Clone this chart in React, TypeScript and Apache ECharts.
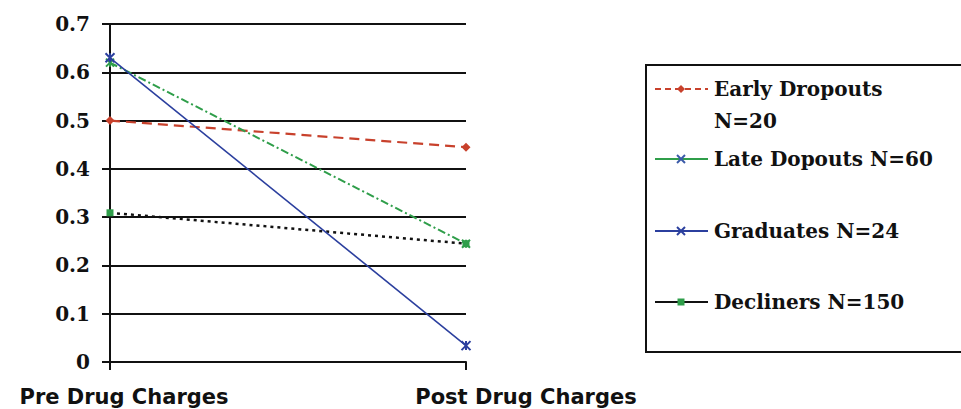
import React, { useEffect, useRef } from "react";
import * as echarts from "echarts";

const categories = ["Pre Drug Charges", "Post Drug Charges"];
const seriesNames = [
  "Early Dropouts\nN=20",
  "Late Dopouts N=60",
  "Graduates N=24",
  "Decliners N=150",
];
const earlyDropouts = [0.5, 0.445];
const lateDropouts = [0.62, 0.245];
const graduates = [0.63, 0.034];
const decliners = [0.309, 0.245];
const yTicks = [0, 0.1, 0.2, 0.3, 0.4, 0.5, 0.6, 0.7];

const RED = "#c8412c";
const GREEN = "#2f9e4a";
const BLUE = "#2b3f9e";
const BLACK = "#111111";
const XSYM = "path://M0,0L10,10M10,0L0,10M5,0L5,10";

export default function App() {
  const ref = useRef<HTMLDivElement>(null);
  useEffect(() => {
    if (!ref.current) return;
    const chart = echarts.init(ref.current, undefined, { renderer: "svg" });

    const styles = [
      { color: RED, type: [10, 6] as any, width: 2.2, symbol: "diamond", symColor: RED, symSize: 9 },
      { color: GREEN, type: [8, 3, 2, 3] as any, width: 2, symbol: XSYM, symColor: GREEN, symSize: 8 },
      { color: BLUE, type: "solid" as any, width: 1.6, symbol: XSYM, symColor: BLUE, symSize: 9 },
      { color: BLACK, type: [3, 4] as any, width: 2.5, symbol: "rect", symColor: GREEN, symSize: 7 },
    ];
    const dataSets = [earlyDropouts, lateDropouts, graduates, decliners];

    const series = dataSets.map((d, i) => {
      const s = styles[i];
      const isPath = s.symbol.startsWith("path://");
      return {
        name: seriesNames[i].replace("\n", " "),
        type: "line",
        data: d,
        symbol: s.symbol,
        symbolSize: s.symSize,
        lineStyle: { color: s.color, type: s.type, width: s.width },
        itemStyle: isPath
          ? { color: s.symColor, borderColor: s.symColor, borderWidth: 2 }
          : { color: s.symColor },
        z: [3, 4, 5, 2][i],
      };
    });

    // legend graphics
    const legendY = [89, 159, 231, 302];
    const legendSym = [
      { kind: "diamond", color: RED },
      { kind: "x", color: "#3a5aa8" },
      { kind: "x", color: BLUE },
      { kind: "rect", color: GREEN },
    ];
    const LH = 32;
    const legendChildren: any[] = [];
    legendChildren.push({
      type: "rect",
      shape: { x: 646, y: 65, width: 330, height: 287 },
      style: { fill: "#fff", stroke: BLACK, lineWidth: 2 },
    });
    seriesNames.forEach((nm, i) => {
      const y = legendY[i];
      const s = styles[i];
      legendChildren.push({
        type: "line",
        shape: { x1: 655, y1: y, x2: 708, y2: y },
        style: {
          stroke: s.color,
          lineWidth: 2,
          lineDash: i === 0 ? [6, 4] : null,
        },
      });
      const m = legendSym[i];
      const cx = 681;
      if (m.kind === "diamond") {
        legendChildren.push({
          type: "polygon",
          shape: { points: [[cx, y - 4], [cx + 4, y], [cx, y + 4], [cx - 4, y]] },
          style: { fill: m.color },
        });
      } else if (m.kind === "x") {
        legendChildren.push({
          type: "line",
          shape: { x1: cx - 4, y1: y - 4, x2: cx + 4, y2: y + 4 },
          style: { stroke: m.color, lineWidth: 2 },
        });
        legendChildren.push({
          type: "line",
          shape: { x1: cx + 4, y1: y - 4, x2: cx - 4, y2: y + 4 },
          style: { stroke: m.color, lineWidth: 2 },
        });
      } else {
        legendChildren.push({
          type: "rect",
          shape: { x: cx - 3.5, y: y - 3.5, width: 7, height: 7 },
          style: { fill: m.color },
        });
      }
      const nLines = nm.split("\n").length;
      legendChildren.push({
        type: "text",
        x: 714,
        y: y + ((nLines - 1) * LH) / 2,
        style: {
          text: nm,
          fill: BLACK,
          font: "bold 20px 'DejaVu Serif'",
          lineHeight: LH,
          verticalAlign: "middle",
          align: "left",
        },
      });
    });

    chart.setOption({
      animation: false,
      backgroundColor: "#fff",
      grid: { left: 110, right: 495, top: 24, bottom: 47, containLabel: false },
      xAxis: {
        type: "category",
        data: categories,
        boundaryGap: false,
        axisLine: { lineStyle: { color: BLACK, width: 2 } },
        axisTick: { show: true, length: 8, lineStyle: { color: BLACK, width: 2 } },
        axisLabel: {
          interval: 0,
          hideOverlap: false,
          showMinLabel: true,
          showMaxLabel: true,
          margin: 24,
          color: BLACK,
          fontFamily: "DejaVu Sans",
          fontWeight: "bold",
          fontSize: 21,
          formatter: (v: string, i: number) => (i === 0 ? `{a|${v}}` : `{b|${v}}`),
          rich: {
            a: { padding: [0, 0, 0, 28], fontFamily: "DejaVu Sans", fontWeight: "bold", fontSize: 21, color: BLACK },
            b: { padding: [0, 0, 0, 120], fontFamily: "DejaVu Sans", fontWeight: "bold", fontSize: 21, color: BLACK },
          },
        },
        splitLine: { show: false },
      },
      yAxis: {
        type: "value",
        min: yTicks[0],
        max: yTicks[yTicks.length - 1],
        interval: 0.1,
        axisLine: { show: true, lineStyle: { color: BLACK, width: 2 } },
        axisTick: { show: true, length: 8, lineStyle: { color: BLACK, width: 2 } },
        axisLabel: {
          margin: 20,
          color: BLACK,
          fontFamily: "DejaVu Serif",
          fontWeight: "bold",
          fontSize: 20,
          formatter: (v: number) => (v === 0 ? "0" : v.toFixed(1)),
        },
        splitLine: { show: true, lineStyle: { color: BLACK, width: 2 } },
      },
      series,
      graphic: [{ type: "group", children: legendChildren }],
    });
    return () => chart.dispose();
  }, []);
  return <div ref={ref} style={{ width: 961, height: 409, position: "absolute", left: 0, top: 0 }} />;
}
